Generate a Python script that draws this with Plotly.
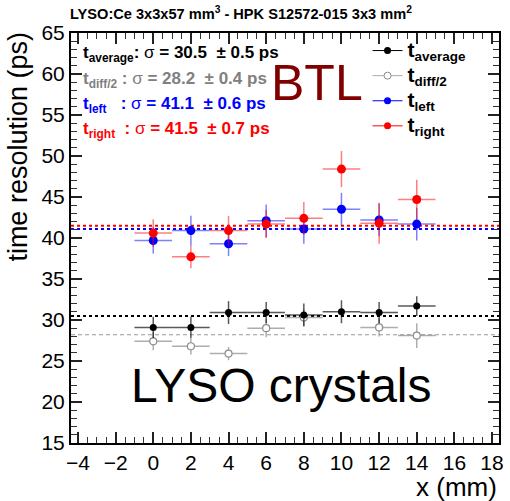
import plotly.graph_objects as go

# ---- data ----
x_pos = [0, 2, 4, 6, 8, 10, 12, 14]
x_err = [1, 1, 1, 1, 1, 1, 1, 1]

t_average = [29.1, 29.1, 30.9, 30.9, 30.6, 31.0, 30.9, 31.7]
t_average_err = [1.3, 1.3, 1.4, 1.3, 1.4, 1.4, 1.3, 1.2]

t_diff2 = [27.4, 26.8, 25.9, 29.0, 30.3, None, 29.1, 28.1]
t_diff2_err = [1.1, 1.0, 0.8, 1.1, 1.0, 0, 1.1, 1.5]

t_left = [39.7, 40.9, 39.3, 42.1, 41.1, 43.5, 42.2, 41.7]
t_left_err = [1.6, 1.8, 1.5, 2.0, 1.8, 2.0, 2.0, 2.0]

t_right = [40.6, 37.7, 40.9, 41.7, 42.4, 48.4, 41.8, 44.7]
t_right_err = [1.7, 1.4, 1.8, 1.7, 2.0, 2.2, 2.5, 2.4]

# fit results (sigma, error)
fit_names = ["average", "diff/2", "left", "right"]
fit_sigma = [30.5, 28.2, 41.1, 41.5]
fit_sigma_err = [0.5, 0.4, 0.6, 0.7]

x_range = [-4.37, 18.37]
y_range = [15, 65]

FONT = "Liberation Sans, Arial, Helvetica, sans-serif"

fig = go.Figure()

line_styles = [
    dict(color="black", width=2, dash="dot"),
    dict(color="#999999", width=1, dash="4px,3px"),
    dict(color="blue", width=2, dash="dot"),
    dict(color="red", width=2, dash="dot"),
]
for s, ls in zip(fit_sigma, line_styles):
    fig.add_trace(go.Scatter(x=x_range, y=[s, s], mode="lines", line=ls,
                             showlegend=False, hoverinfo="skip"))

series = [
    (t_diff2, t_diff2_err, dict(color="white", size=7, symbol="circle",
                                line=dict(color="#8c8c8c", width=1.2)),
     "rgba(140,140,140,0.7)"),
    (t_average, t_average_err, dict(color="black", size=7, symbol="circle"),
     "rgba(0,0,0,0.65)"),
    (t_left, t_left_err, dict(color="blue", size=9, symbol="circle"),
     "rgba(0,0,255,0.5)"),
    (t_right, t_right_err, dict(color="red", size=9, symbol="circle"),
     "rgba(255,0,0,0.5)"),
]
for yv, ye, mk, ecol in series:
    fig.add_trace(go.Scatter(
        x=x_pos, y=yv, mode="markers", marker=mk, showlegend=False,
        error_y=dict(type="data", array=ye, color=ecol, thickness=1.5, width=0),
        error_x=dict(type="data", array=x_err, color=ecol, thickness=1.5, width=0),
    ))

def leg_name(sub):
    return ("<b><span style='font-size:21px'>t</span><sub>"
            f"<span style='font-size:13.5px'>{sub}</span></sub></b>")

leg = [
    (leg_name("average"), dict(color="black", size=7), "black"),
    (leg_name("diff/2"), dict(color="white", size=7, line=dict(color="#8c8c8c", width=1)), "#aaaaaa"),
    (leg_name("left"), dict(color="blue", size=7), "blue"),
    (leg_name("right"), dict(color="red", size=7), "red"),
]
for name, mk, lc in leg:
    fig.add_trace(go.Scatter(x=[None], y=[None], mode="lines+markers", name=name,
                             marker=mk, line=dict(color=lc, width=1)))

colors = ["black", "#808080", "blue", "red"]
sep = [":", "\u00a0:", "\u00a0\u00a0\u00a0:", "\u00a0\u00a0:"]
ypix = [54, 80, 105, 130]
for nm, s, e, c, sp, yp in zip(fit_names, fit_sigma, fit_sigma_err, colors, sep, ypix):
    txt = f"<b>t<sub>{nm}</sub>{sp} </b>σ<b> = {s:.1f} \u00a0± {e:.1f} ps</b>"
    fig.add_annotation(text=txt, xref="paper", yref="paper", x=(81 - 71) / 433.0,
                       y=1 - (yp - 33) / 410.0, xanchor="left", yanchor="middle",
                       showarrow=False, font=dict(family=FONT, size=17, color=c))

fig.add_annotation(text="BTL", xref="paper", yref="paper", x=(320 - 71) / 433.0,
                   y=1 - (83 - 33) / 410.0, xanchor="center", yanchor="middle",
                   showarrow=False, font=dict(family=FONT, size=50, color="#800000"))
fig.add_annotation(text="LYSO crystals", xref="paper", yref="paper", x=(284 - 71) / 433.0,
                   y=1 - (385 - 33) / 410.0, xanchor="center", yanchor="middle",
                   showarrow=False, font=dict(family=FONT, size=48, color="black"))

fig.add_annotation(text="<b>LYSO:Ce 3x3x57 mm<sup>3</sup> - HPK S12572-015 3x3 mm<sup>2</sup></b>",
                   xref="paper", yref="paper", x=(68 - 71) / 433.0, y=1 + (33 - 13) / 410.0,
                   xanchor="left", yanchor="middle", showarrow=False,
                   font=dict(family=FONT, size=14.6, color="black"))

fig.add_annotation(text="x (mm)", xref="paper", yref="paper", x=1.0, y=-(487 - 443) / 410.0,
                   xanchor="right", yanchor="middle", showarrow=False,
                   font=dict(family=FONT, size=26, color="black"))
fig.add_annotation(text="time resolution (ps)", xref="paper", yref="paper",
                   x=-(71 - 17) / 433.0, y=1 + (33 - 30) / 410.0, textangle=-90,
                   xanchor="center", yanchor="top", showarrow=False,
                   font=dict(family=FONT, size=27, color="black"))

tickfont = dict(family=FONT, size=21, color="black")
axis_style = dict(showgrid=False, zeroline=False, showline=True, linecolor="black",
                  linewidth=2, mirror="allticks", ticks="inside", tickcolor="#222222",
                  tickwidth=1.5, ticklen=11, tickfont=tickfont)

fig.update_xaxes(range=x_range, tickmode="linear", tick0=-4, dtick=2,
                 minor=dict(dtick=0.5, ticks="inside", ticklen=6, tickcolor="#333333", tickwidth=1.2),
                 **axis_style)
fig.update_yaxes(range=y_range, tickmode="linear", tick0=15, dtick=5,
                 minor=dict(dtick=1, ticks="inside", ticklen=6, tickcolor="#333333", tickwidth=1.2),
                 **axis_style)

fig.update_layout(
    width=510, height=501,
    margin=dict(l=71, r=6, t=33, b=58),
    plot_bgcolor="white", paper_bgcolor="white",
    font=dict(family=FONT, color="black"),
    legend=dict(x=(371 - 71) / 433.0, y=1.0, xanchor="left", yanchor="top",
                bgcolor="rgba(0,0,0,0)", font=dict(family=FONT, size=17, color="black"),
                itemwidth=30, tracegroupgap=0),
    showlegend=True,
)

fig.write_html("out.html")
